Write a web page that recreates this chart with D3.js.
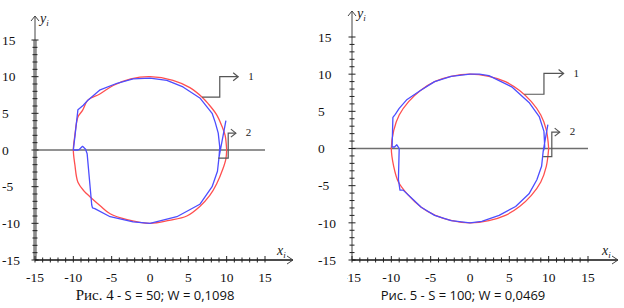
<!DOCTYPE html>
<html>
<head>
<meta charset="utf-8">
<script src="https://cdn.jsdelivr.net/npm/d3@7/dist/d3.min.js"></script>
<style>
  body { margin: 0; background: #fff; }
  svg { display: block; }
</style>
</head>
<body>
<div id="chart"></div>
<script>
// tick values on both axes
const axisTicks = [-15, -10, -5, 0, 5, 10, 15]

// Fig. 4, S = 50 : curve 1 (reference circle) and curve 2 (trajectory)
const redS50 = [[10, 0], [9.8, 2], [9.4, 3.2], [8.7, 4.8], [7.6, 6.3], [6.8, 7.2], [5.2, 8.5], [3, 9.5], [0, 10],
    [-2.5, 9.7], [-4.8, 8.8], [-6.6, 7.6], [-8.1, 6.8], [-8.8, 5.4], [-9.4, 4.5], [-9.8, 2], [-10, 0],
    [-9.8, -2], [-9.4, -4.4], [-8.6, -5.6], [-7.8, -6.4], [-6.5, -7.6], [-5.2, -8.7], [-3, -9.5], [0, -10],
    [2.5, -9.6], [4.8, -9], [6.5, -7.7], [7.8, -6.2], [8.7, -4.6], [9.5, -2.6], [9.9, -1.2], [10, 0]]
const blueS50 = [[9.9, 4.0], [9.0, -1.0], [8.8, -2.9], [8.1, -5.0], [6.5, -7.4], [3.5, -9.1], [0, -10],
    [-2.2, -9.8], [-5.2, -9.1], [-7.2, -8.0], [-7.5, -7.9], [-7.6, -7.5], [-8.2, -0.5], [-8.4, 0.1],
    [-8.8, 0.5], [-9.2, 0.1], [-9.4, 0], [-10, 0], [-9.8, 1.8], [-9.4, 5.5], [-8.7, 6.1], [-8.1, 6.8],
    [-6.5, 8.2], [-4.3, 9.1], [-2.2, 9.7], [0, 9.8], [2.2, 9.5], [4.3, 8.6], [6.5, 7.1], [8.1, 5.0],
    [8.5, 3.8], [8.9, 2.3], [9.1, 0.4], [9.0, -1.0]]

// Fig. 5, S = 100
const redS100 = [[10, 0], [9.7, 2.5], [9.0, 4.5], [7.8, 6.3], [6.3, 7.8], [4.5, 9.0], [2.4, 9.7], [0, 10],
    [-2.4, 9.7], [-4.5, 9.0], [-6.3, 7.8], [-7.8, 6.3], [-9.0, 4.5], [-9.7, 2.4], [-10, 0],
    [-9.7, -2.4], [-9.1, -4.5], [-7.9, -6.2], [-6.2, -7.9], [-4.4, -9.0], [-2.3, -9.7], [0, -10],
    [2.4, -9.7], [4.5, -9.0], [6.3, -7.8], [7.8, -6.3], [9.0, -4.5], [9.7, -2.4], [10, 0]]
const blueS100 = [[9.9, 3.2], [9.3, -0.4], [9.1, -2.4], [8.5, -4.2], [7.5, -6.1], [5.8, -7.8], [3.7, -9.0],
    [1.5, -9.8], [0, -10], [-2.4, -9.7], [-4.5, -9.0], [-6.2, -7.9], [-7.2, -6.9], [-8.5, -5.6],
    [-8.9, -5.6], [-9.1, -4.2], [-9.0, 0.0], [-9.3, 0.5], [-9.6, 0.2], [-9.9, 0.2], [-9.8, 4.2],
    [-9.5, 4.6], [-9.0, 5.4], [-8.0, 6.6], [-6.3, 7.8], [-4.5, 9.0], [-2.4, 9.7], [0, 10], [1.2, 10],
    [2.4, 9.8], [5.3, 8.3], [7.5, 6.2], [8.8, 4.3], [9.4, 2.3], [9.5, 0.2], [9.3, -0.4]]

// leader lines to the curve numbers (data units)
const leader1S50 = [[6.8, 7.2], [9.1, 7.2], [9.1, 10], [11.5, 10]]
const leader2S50 = [[8.9, -1.1], [10.2, -1.1], [10.2, 2.3], [11.2, 2.3]]
const leader1S100 = [[6.9, 7.3], [9.4, 7.3], [9.4, 10.1], [11.9, 10.1]]
const leader2S100 = [[9.3, -1.1], [10.4, -1.1], [10.4, 2.2], [11.4, 2.2]]
const leaderLabels = ['1', '2']

const figNumbers = ['Рис. 4', 'Рис. 5']
const figParams = [' - S = 50; W = 0,1098', ' - S = 100; W = 0,0469']

const serif = '"Liberation Serif", "Times New Roman", serif'
const sans = '"Open Sans", "Liberation Sans", sans-serif'

class CircleChart {

    constructor(svg, opt) {
        this.svg = svg
        this.opt = opt
        this.g = svg.append('g')
    }

    draw() {
        this.generateScales()
        this.drawAxes()
        this.drawCurves()
        this.drawLeaders()
        this.drawCaption()
    }

    generateScales() {
        const o = this.opt
        this.x = d3.scaleLinear().domain([-15, 15]).range(o.xRange)
        this.y = d3.scaleLinear().domain([-15, 15]).range(o.yRange)
    }

    drawAxes() {
        const g = this.g, x = this.x, y = this.y, o = this.opt
        const x0 = x(-15), yb = y(-15)
        const units = d3.range(-15, 16)

        // zero line
        g.append('line')
            .attr('x1', x(-15)).attr('x2', x(15))
            .attr('y1', y(0)).attr('y2', y(0))
            .attr('stroke', '#6e6e6e').attr('stroke-width', 1.6)

        // vertical axis
        g.append('line')
            .attr('x1', x0).attr('x2', x0)
            .attr('y1', o.yArrow).attr('y2', yb)
            .attr('stroke', '#444').attr('stroke-width', 1)
        if (o.thickY) {
            g.append('rect')
                .attr('x', x0 - 1.8).attr('y', y(15))
                .attr('width', 3.6).attr('height', yb - y(15))
                .attr('fill', '#8c8c8c')
        }
        g.append('path')
            .attr('d', `M${x0 - 4},${o.yArrow + 5}L${x0},${o.yArrow}L${x0 + 4},${o.yArrow + 5}`)
            .attr('fill', 'none').attr('stroke', '#444').attr('stroke-width', 1)
        g.selectAll('.yt').data(units).enter().append('line')
            .attr('x1', d => x0 - (d % 5 === 0 ? 3.5 : 2.5))
            .attr('x2', d => x0 + (d % 5 === 0 ? 3.5 : 2.5))
            .attr('y1', d => y(d)).attr('y2', d => y(d))
            .attr('stroke', '#222').attr('stroke-width', 1)

        // horizontal axis
        g.append('line')
            .attr('x1', x0).attr('x2', o.xArrow)
            .attr('y1', yb).attr('y2', yb)
            .attr('stroke', '#111').attr('stroke-width', 1.6)
        g.append('path')
            .attr('d', `M${o.xArrow - 6},${yb - 4}L${o.xArrow},${yb}L${o.xArrow - 6},${yb + 4}`)
            .attr('fill', 'none').attr('stroke', '#444').attr('stroke-width', 1)
        g.selectAll('.xt').data(units).enter().append('line')
            .attr('x1', d => x(d)).attr('x2', d => x(d))
            .attr('y1', d => yb - (d % 5 === 0 ? 4 : 2.5))
            .attr('y2', d => yb + 2.5)
            .attr('stroke', '#222').attr('stroke-width', 1)

        // tick labels
        const lab = g.append('g')
            .style('font-family', serif)
            .style('font-size', '13.5px').attr('fill', '#111')
        lab.selectAll('.yl').data(axisTicks).enter().append('text')
            .attr('x', o.yLabelX).attr('y', d => y(d))
            .attr('dy', '0.35em')
            .text(d => d)
        const xl = lab.append('g')
        if (o.clipX) {
            this.svg.append('clipPath').attr('id', 'clipx' + o.id)
                .append('rect').attr('x', o.clipX).attr('y', 260).attr('width', 400).attr('height', 30)
            xl.attr('clip-path', `url(#clipx${o.id})`)
        }
        xl.selectAll('.xl').data(axisTicks).enter().append('text')
            .attr('x', d => x(d)).attr('y', 277)
            .attr('dy', '0.35em').attr('text-anchor', 'middle')
            .text(d => d)

        // axis names
        const nm = g.append('g')
            .style('font-family', serif)
            .style('font-style', 'italic').attr('fill', '#222')
        const yn = nm.append('text').attr('x', x0 + 5).attr('y', o.yArrow + 7).style('font-size', '14px')
        yn.append('tspan').text('y')
        yn.append('tspan').attr('dy', 3).style('font-size', '9px').text('i')
        const xn = nm.append('text').attr('x', o.xArrow - 16).attr('y', yb - 5).style('font-size', '14px')
        xn.append('tspan').text('x')
        xn.append('tspan').attr('dy', 3).style('font-size', '9px').text('i')
    }

    drawCurves() {
        const smooth = d3.line().x(d => this.x(d[0])).y(d => this.y(d[1]))
            .curve(d3.curveCatmullRom.alpha(0.5))
        const line = d3.line().x(d => this.x(d[0])).y(d => this.y(d[1]))
        this.g.append('path')
            .attr('d', smooth(this.opt.red))
            .attr('fill', 'none').attr('stroke', '#ff4f4f').attr('stroke-width', 1.3)
        this.g.append('path')
            .attr('d', line(this.opt.blue))
            .attr('fill', 'none').attr('stroke', '#4d4dff').attr('stroke-width', 1.3)
            .attr('stroke-linejoin', 'round')
    }

    drawLeaders() {
        const line = d3.line().x(d => this.x(d[0])).y(d => this.y(d[1]))
        const g = this.g
        this.opt.leaders.forEach((pts, i) => {
            g.append('path').attr('d', line(pts))
                .attr('fill', 'none').attr('stroke', '#555').attr('stroke-width', 1.2)
            const end = pts[pts.length - 1]
            const ex = this.x(end[0]), ey = this.y(end[1])
            g.append('path')
                .attr('d', `M${ex - 5},${ey - 4}L${ex},${ey}L${ex - 5},${ey + 4}`)
                .attr('fill', 'none').attr('stroke', '#555').attr('stroke-width', 1.2)
            g.append('text')
                .attr('x', ex + 10).attr('y', ey).attr('dy', '0.3em')
                .style('font-family', serif).style('font-size', '11px')
                .attr('fill', '#222')
                .text(leaderLabels[i])
        })
    }

    drawCaption() {
        const o = this.opt
        const t = this.g.append('text')
            .attr('x', o.captionX).attr('y', 300)
            .attr('text-anchor', 'middle').attr('fill', '#111')
        t.append('tspan')
            .style('font-family', o.serifCaption ? serif : sans)
            .style('font-size', o.serifCaption ? '15px' : '13px')
            .text(o.figNumber)
        t.append('tspan')
            .style('font-family', sans)
            .style('font-size', '13px')
            .text(o.params)
    }
}

const svg = d3.select('#chart').append('svg')
    .attr('width', 624).attr('height', 308)

new CircleChart(svg, {
    id: 0, xRange: [35, 265], yRange: [260, 40], yArrow: 16, xArrow: 293,
    thickY: true, yLabelX: 2, red: redS50, blue: blueS50,
    leaders: [leader1S50, leader2S50], captionX: 155, serifCaption: true,
    figNumber: figNumbers[0], params: figParams[0]
}).draw()

new CircleChart(svg, {
    id: 1, xRange: [352, 588], yRange: [260, 37], yArrow: 11, xArrow: 618,
    thickY: false, yLabelX: 318, clipX: 347, red: redS100, blue: blueS100,
    leaders: [leader1S100, leader2S100], captionX: 463, serifCaption: false,
    figNumber: figNumbers[1], params: figParams[1]
}).draw()
</script>
</body>
</html>
